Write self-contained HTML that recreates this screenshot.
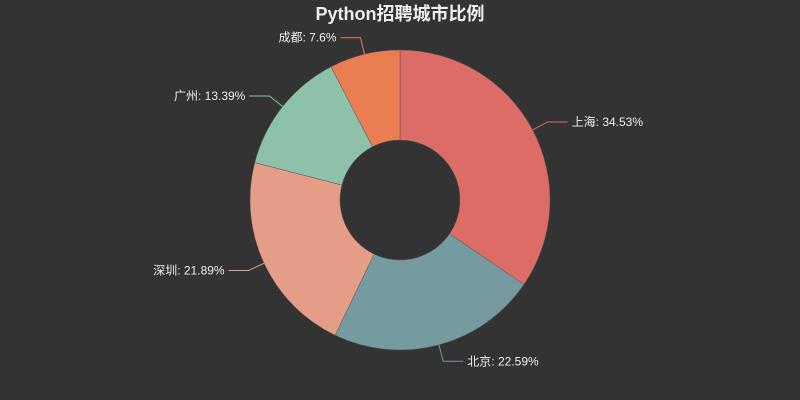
<!DOCTYPE html>
<html><head><meta charset="utf-8"><style>
html,body{margin:0;padding:0;background:#333;}
svg{display:block;}
text{font-family:"Liberation Sans","Noto Sans CJK SC",sans-serif;}
</style></head><body>
<svg id="chart" width="800" height="400">
<rect width="800" height="400" fill="#333333"/>
<text x="400" y="20" text-anchor="middle" font-size="18" font-weight="bold" fill="#eeeeee">Python招聘城市比例</text>
</svg>
<script>
const categories=["上海","北京","深圳","广州","成都"];
const values=[34.53,22.59,21.89,13.39,7.6];
const colors=["#dd6b66","#759aa0","#e69d87","#8dc1a9","#ea7e53"];
const svg=document.getElementById('chart');
const NS='http://www.w3.org/2000/svg';
const cx=400,cy=200,R=150,r=60;
const total=values.reduce((a,b)=>a+b,0);
function pt(a,rad){return [cx+rad*Math.sin(a),cy-rad*Math.cos(a)];}
let a0=0;
values.forEach((v,i)=>{
  const a1=a0+v/total*2*Math.PI;
  const large=(a1-a0)>Math.PI?1:0;
  const p1=pt(a0,R),p2=pt(a1,R),p3=pt(a1,r),p4=pt(a0,r);
  const path=document.createElementNS(NS,'path');
  path.setAttribute('d',`M${p1[0]},${p1[1]}A${R},${R} 0 ${large} 1 ${p2[0]},${p2[1]}L${p3[0]},${p3[1]}A${r},${r} 0 ${large} 0 ${p4[0]},${p4[1]}Z`);
  path.setAttribute('fill',colors[i]);
  path.setAttribute('stroke','#555');path.setAttribute('stroke-width','0.5');
  
  
  svg.appendChild(path);
  const am=(a0+a1)/2;
  const s=pt(am,R),m=pt(am,R+17);
  const right=Math.sin(am)>=0;
  const ex=m[0]+(right?20:-20);
  const line=document.createElementNS(NS,'polyline');
  line.setAttribute('points',`${s[0]},${s[1]} ${m[0]},${m[1]} ${ex},${m[1]}`);
  line.setAttribute('fill','none');line.setAttribute('stroke',colors[i]);
  
  
  svg.appendChild(line);
  const t=document.createElementNS(NS,'text');
  t.setAttribute('x',ex+(right?4:-4));t.setAttribute('y',m[1]+4);
  t.setAttribute('text-anchor',right?'start':'end');
  t.setAttribute('font-size','12');t.setAttribute('fill','#eeeeee');
  t.textContent=categories[i]+': '+values[i]+'%';
  
  
  svg.appendChild(t);
  a0=a1;
});
</script>
</body></html>
